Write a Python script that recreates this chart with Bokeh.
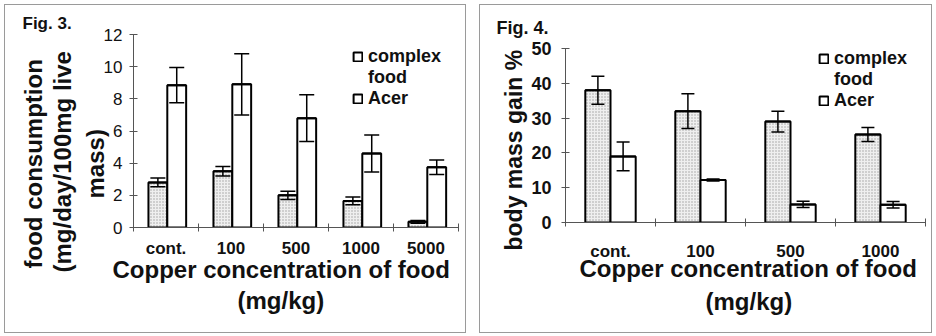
import numpy as np
from bokeh.plotting import figure
from bokeh.models import (ColumnDataSource, Whisker, TeeHead, FixedTicker, Title,
                          Legend, LegendItem, Range1d)
from bokeh.layouts import row, column
from bokeh.embed import file_html
from bokeh.resources import INLINE

# ---------------- data ----------------
categories3 = ["cont.", "100", "500", "1000", "5000"]
complex3 = [2.8, 3.5, 2.0, 1.65, 0.35]
complex3_err = [0.27, 0.3, 0.26, 0.24, 0.08]
acer3 = [8.85, 8.9, 6.8, 4.6, 3.75]
acer3_err = [1.1, 1.9, 1.45, 1.15, 0.45]
y3_ticks = [0, 2, 4, 6, 8, 10, 12]

categories4 = ["cont.", "100", "500", "1000"]
complex4 = [38.0, 32.0, 29.0, 25.3]
complex4_err = [4.0, 5.0, 3.0, 2.0]
acer4 = [19.0, 12.2, 5.2, 5.1]
acer4_err = [4.1, 0.3, 0.9, 0.9]
y4_ticks = [0, 10, 20, 30, 40, 50]

series_names = ["complex", "food", "Acer"]
x_title = ["Copper concentration of food", "(mg/kg)"]
y3_title = ["mass)", "(mg/day/100mg live", "food consumption"]   # innermost first
y4_title = "body mass gain  %"

FONT = "Liberation Sans"
AXIS_COLOR = "#555555"
TXT = "#111111"
BOX = {"border": "1px solid #9a9a9a"}


def title(p, text, side, size, offset, standoff=0, bold=True):
    p.add_layout(Title(text=text, align="left", offset=offset, standoff=standoff,
                       text_font=FONT, text_font_size=size,
                       text_font_style="bold" if bold else "normal",
                       text_color=TXT), side)


def panel(cats, comp, comp_err, acer, acer_err, yticks, ymax, width, height,
          borders, shift, bw, cap, ytick_size, ytick_bold, xstand, ystand):
    n = len(cats)
    left, right, top, bottom = borders
    p = figure(width=width, height=height, output_backend="svg", toolbar_location=None,
               x_range=Range1d(0, n), y_range=Range1d(0, ymax),
               min_border_left=left, min_border_right=right,
               min_border_top=top, min_border_bottom=bottom)
    p.frame_align = False
    p.outline_line_color = None
    p.xgrid.visible = False
    p.ygrid.visible = False

    centers = np.arange(n) + 0.5 + shift
    xc = centers - bw / 2
    xa = centers + bw / 2
    p.vbar(x=xc, top=comp, width=bw, fill_color="#efefef",
           hatch_pattern="dot", hatch_color="#a0a0a0", hatch_scale=3, hatch_weight=1,
           line_color="black", line_width=2)
    p.vbar(x=xa, top=acer, width=bw, fill_color="white",
           line_color="black", line_width=2)

    for xs, vals, errs in ((xc, comp, comp_err), (xa, acer, acer_err)):
        src = ColumnDataSource(dict(x=xs,
                                    upper=[v + e for v, e in zip(vals, errs)],
                                    lower=[v - e for v, e in zip(vals, errs)]))
        w = Whisker(base="x", upper="upper", lower="lower", source=src,
                    level="annotation", line_color="black", line_width=1.5,
                    upper_head=TeeHead(size=cap, line_width=1.5, line_color="black"),
                    lower_head=TeeHead(size=cap, line_width=1.5, line_color="black"))
        p.add_layout(w)

    # legend proxies: zero-height bars lying on the bar tops (hollow squares in legend)
    r1 = p.vbar(x=xc, top=comp, bottom=comp, width=bw, fill_color="white",
                line_color="black", line_width=2)
    r2 = p.vbar(x=xc, top=comp, bottom=comp, width=bw, fill_alpha=0, line_alpha=0)
    r3 = p.vbar(x=xa, top=acer, bottom=acer, width=bw, fill_color="white",
                line_color="black", line_width=2)
    legend = Legend(items=[LegendItem(label=series_names[0], renderers=[r1]),
                           LegendItem(label=series_names[1], renderers=[r2]),
                           LegendItem(label=series_names[2], renderers=[r3])],
                    padding=0, margin=0, spacing=0, border_line_alpha=0,
                    background_fill_alpha=0, glyph_width=11, glyph_height=11,
                    label_standoff=5, label_height=20,
                    label_text_font=FONT, label_text_font_size="18px",
                    label_text_font_style="bold", label_text_color=TXT)
    p.add_layout(legend)

    xa_ = p.xaxis[0]
    xa_.ticker = FixedTicker(ticks=list(np.arange(n) + 0.5), minor_ticks=list(range(n + 1)))
    xa_.major_label_overrides = {float(i + 0.5): c for i, c in enumerate(cats)}
    xa_.major_tick_in = 0
    xa_.major_tick_out = 0
    xa_.minor_tick_in = 4
    xa_.minor_tick_out = 4
    xa_.minor_tick_line_color = AXIS_COLOR
    xa_.axis_line_color = AXIS_COLOR
    xa_.major_label_text_font = FONT
    xa_.major_label_text_font_size = "17px"
    xa_.major_label_text_font_style = "bold"
    xa_.major_label_text_color = TXT
    xa_.major_label_standoff = xstand

    ya = p.yaxis[0]
    ya.ticker = FixedTicker(ticks=yticks)
    ya.major_tick_in = 4
    ya.major_tick_out = 4
    ya.major_tick_line_color = AXIS_COLOR
    ya.axis_line_color = AXIS_COLOR
    ya.major_label_text_font = FONT
    ya.major_label_text_font_size = ytick_size
    ya.major_label_text_font_style = "bold" if ytick_bold else "normal"
    ya.major_label_text_color = TXT
    ya.major_label_standoff = ystand
    return p, legend


# ---------------- Fig. 3 ----------------
p1, leg1 = panel(categories3, complex3, complex3_err, acer3, acer3_err, y3_ticks, 12,
                 460, 327, (128, 7, 29, 105), 0.02, 0.29, 15, "17px", False, 7, 7)
leg1.location = (219, 118)
title(p1, "Fig. 3.", "above", "17px", -111, standoff=3)
for txt, off, so in zip(y3_title, (29, -45, -41), (-17, 25, -25)):
    title(p1, txt, "left", "24px", off, standoff=so)
title(p1, x_title[0], "below", "24px", -21, standoff=-14)
title(p1, x_title[1], "below", "24px", 104, standoff=18)

# ---------------- Fig. 4 ----------------
p2, leg2 = panel(categories4, complex4, complex4_err, acer4, acer4_err, y4_ticks, 50,
                 451, 327, (85, 6, 41, 110), 0.0, 0.28, 13, "18px", True, 15, 10)
leg2.location = (253, 111)
title(p2, "Fig. 4.", "above", "18px", -69, standoff=21)
title(p2, y4_title, "left", "23px", -28, standoff=4)
title(p2, x_title[0], "below", "24px", 14, standoff=-22)
title(p2, x_title[1], "below", "24px", 140, standoff=30)

box1 = column(p1, styles=BOX, margin=(4, 0, 0, 4))
box2 = column(p2, styles=BOX, margin=(4, 0, 0, 13))
layout = row(box1, box2)
open("out.html", "w").write(file_html(layout, INLINE))
